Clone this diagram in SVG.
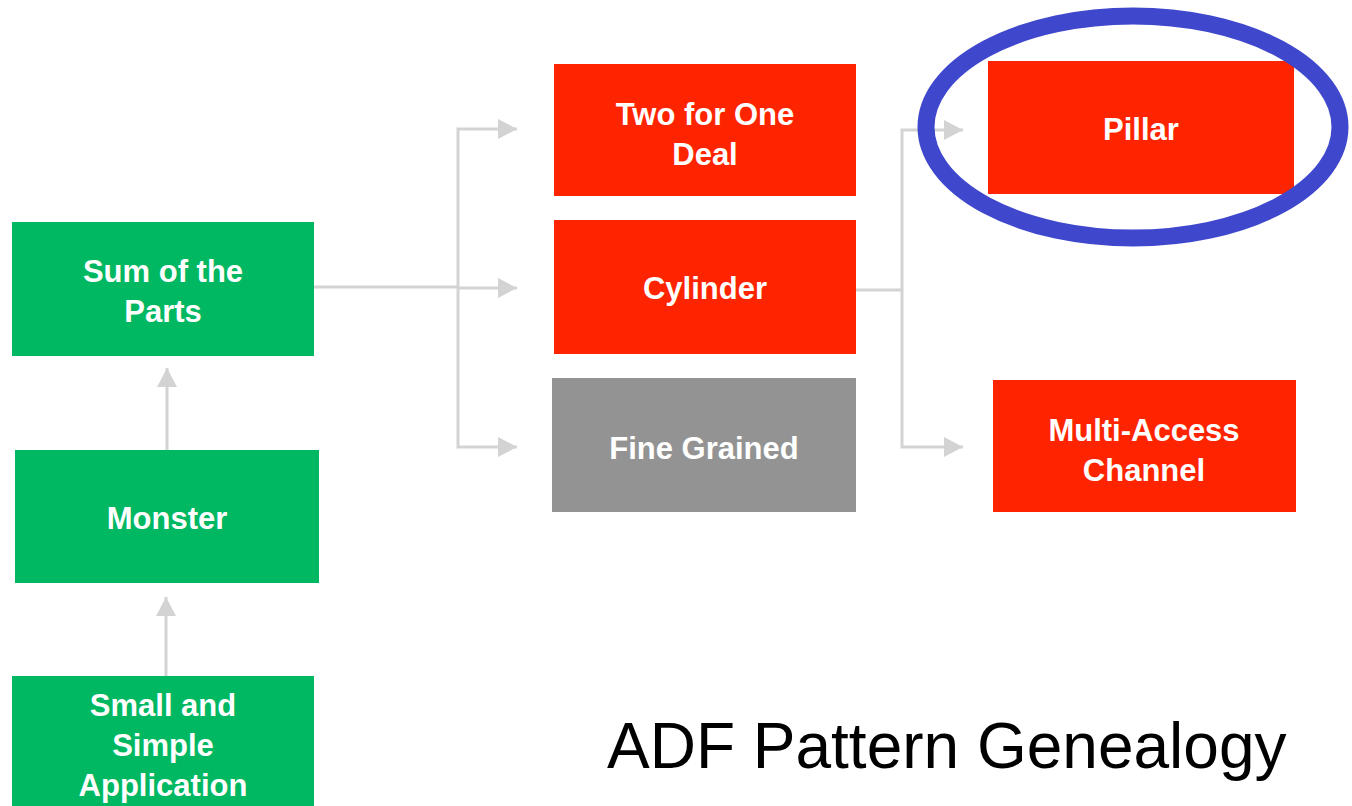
<svg xmlns="http://www.w3.org/2000/svg" width="1352" height="806" viewBox="0 0 1352 806">
<style>
.g{fill:#00b862}
.r{fill:#ff2400}
.gr{fill:#939393}
.t{font-family:"Liberation Sans",Arial,sans-serif;font-weight:bold;font-size:31px;fill:#fff;text-anchor:middle}
.c{fill:none;stroke:#d3d3d3;stroke-width:3}
</style>
<defs>
<marker id="ah" viewBox="0 0 19 20" refX="19" refY="10" markerWidth="19" markerHeight="20" markerUnits="userSpaceOnUse" orient="auto">
<path d="M0,0 L19,10 L0,20 Z" fill="#d3d3d3"/>
</marker>
</defs>
<rect width="1352" height="806" fill="#fff"/>
<g id="connectors">
<path class="c" d="M314,287 L458,287"/>
<path class="c" d="M458,288 L458,129 L517,129" marker-end="url(#ah)"/>
<path class="c" d="M458,288 L458,447 L517,447" marker-end="url(#ah)"/>
<path class="c" d="M458,288 L517,288" marker-end="url(#ah)"/>
<path class="c" d="M856,290 L902,290"/>
<path class="c" d="M902,290 L902,130 L963,130" marker-end="url(#ah)"/>
<path class="c" d="M902,290 L902,447 L963,447" marker-end="url(#ah)"/>
<path class="c" d="M167,450 L167,368" marker-end="url(#ah)"/>
<path class="c" d="M166,676 L166,597" marker-end="url(#ah)"/>
</g>
<g id="sum">
<rect class="g" x="12" y="222" width="302" height="134"/>
<text class="t" x="163" y="282">Sum of the</text>
<text class="t" x="163" y="322">Parts</text>
</g>
<g id="monster">
<rect class="g" x="15" y="450" width="304" height="133"/>
<text class="t" x="167" y="529">Monster</text>
</g>
<g id="small">
<rect class="g" x="12" y="676" width="302" height="140"/>
<text class="t" x="163" y="716">Small and</text>
<text class="t" x="163" y="756">Simple</text>
<text class="t" x="163" y="796">Application</text>
</g>
<g id="twoforone">
<rect class="r" x="554" y="64" width="302" height="132"/>
<text class="t" x="705" y="125">Two for One</text>
<text class="t" x="705" y="165">Deal</text>
</g>
<g id="cylinder">
<rect class="r" x="554" y="220" width="302" height="134"/>
<text class="t" x="705" y="299">Cylinder</text>
</g>
<g id="finegrained">
<rect class="gr" x="552" y="378" width="304" height="134"/>
<text class="t" x="704" y="459">Fine Grained</text>
</g>
<g id="pillar">
<rect class="r" x="988" y="61" width="306" height="133"/>
<text class="t" x="1141" y="140">Pillar</text>
</g>
<g id="multiaccess">
<rect class="r" x="993" y="380" width="303" height="132"/>
<text class="t" x="1144" y="441">Multi-Access</text>
<text class="t" x="1144" y="481">Channel</text>
</g>
<g id="highlight">
<ellipse cx="1133" cy="127" rx="207" ry="111" fill="none" stroke="#3f48cc" stroke-width="17"/>
</g>
<text x="607" y="768" font-family="'Liberation Sans',Arial,sans-serif" font-size="64" fill="#000">ADF Pattern Genealogy</text>
</svg>
